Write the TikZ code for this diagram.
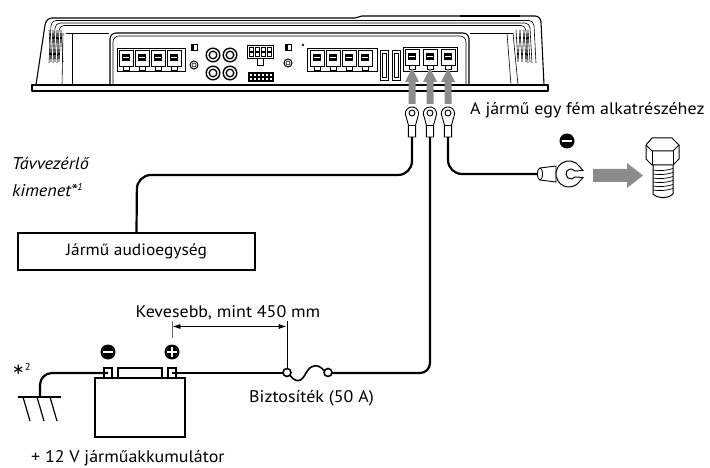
\documentclass[tikz,border=0pt]{standalone}
\usepackage{fontspec}
\setmainfont{PT Sans}[FakeStretch=1.07]
\newfontfamily\djv{DejaVu Sans}
\usetikzlibrary{arrows.meta}
\begin{document}
\begin{tikzpicture}[x=1pt,y=-1pt,
  amp/.style={line width=1.1pt, line join=round},
  det/.style={line width=0.6pt},
  wire/.style={line width=2.2pt},
  gfill/.style={fill=black!45},
  lbl/.style={font=\fontsize{16.8}{19}\selectfont, inner sep=0pt},
  ilbl/.style={font=\fontsize{17}{19}\selectfont\itshape, inner sep=0pt},
  boxst/.style={draw, line width=1.6pt, minimum width=237pt, minimum height=37pt, inner sep=0pt, font=\fontsize{16.3}{19}\selectfont},
  term/.pic={\draw[det] (0,0) rectangle (14,16); \fill (3,4) rectangle (11,11);
    \draw[white,line width=0.5pt] (4,7.5) -- (10,7.5); \draw[det] (4,16) rectangle (10,20);},
  signminus/.pic={\fill (0,0) circle[radius=7.5]; \fill[white] (-4.8,-1.3) rectangle (4.8,1.3);},
  signplus/.pic={\fill (0,0) circle[radius=7.5]; \fill[white] (-4.8,-1.3) rectangle (4.8,1.3);
    \fill[white] (-1.3,-4.8) rectangle (1.3,4.8);}
]
\useasboundingbox (0,0) rectangle (710,468);

% ---------------- amplifier ----------------
\draw[amp] (32,85) rectangle (548,91);
\draw[amp] (36,85) -- (45,25) to[out=80,in=180] (52,18) -- (355,18) -- (362,16) -- (535,16) to[out=0,in=95] (541,22) -- (544,85);
\draw[line width=2pt] (460,15.8) -- (520,15.8);
\foreach \k in {1,2,3}{
  \draw[det] (45+4*\k,63) -- (47+4*\k,23+2.5*\k) to[out=80,in=180] (52+4*\k,18+2.5*\k)
     -- (533-4*\k,18+2.5*\k) to[out=0,in=100] (538-4*\k,23+2.5*\k) -- (540-4*\k,63);
}
\draw[det] (49,30) -- (51,62) -- (53,30) -- (55,62) -- (57,30) -- (59,62) -- (61,30) -- (63,62);
\draw[det] (516,30) -- (518,62) -- (520,30) -- (522,62) -- (524,30) -- (526,62) -- (528,30) -- (530,62);
\draw[det] (63,33) -- (62,85);
\draw[det] (72,33) -- (72,85);
\draw[det] (66,33) -- (109,33);
\draw[det] (470,33) -- (513,33);
\draw[det] (507,33) -- (511,85);
\draw[det] (513,33) -- (518,85);
% panel
\draw[amp] (110,85) -- (110,39) to[out=90,in=180] (116,33) -- (463,33) to[out=0,in=90] (469,39) -- (469,85);
\draw[det] (113,85) -- (113,42) to[out=90,in=180] (119,36) -- (460,36) to[out=0,in=90] (466,42) -- (466,85);

% left speaker block
\draw[det] (117,48) rectangle (185,71);
\foreach \x in {119,135,151,167} \pic at (\x,50) {term};
% small switch and knob
\draw[det] (191,44) rectangle (197,50); \fill (191,44) rectangle (194,50);
\draw[line width=1pt] (194,65) circle[radius=4]; \draw[det] (194,65) circle[radius=2];
% RCA jacks
\foreach \x/\y in {213/55,230/55,213/73,230/73}{
  \draw[line width=1.4pt] (\x,\y) circle[radius=6.8];
  \draw[line width=1.3pt] (\x,\y) circle[radius=3.8];
}
% 8 pin connector
\draw[det] (247,45) rectangle (273,58);
\foreach \x in {249,255,261,267} \foreach \y in {47,52} \draw[det] (\x,\y) rectangle ++(4.5,4);
\draw[det] (257,58) rectangle (263,65);
% 16 pin connector
\draw[det] (248,72) rectangle (273,81);
\foreach \x in {249.5,253.5,257.5,261.5,265.5,269.5} \foreach \y in {73.5,77.2} \draw[det] (\x,\y) rectangle ++(3,3);
% small switch, led, knob
\draw[det] (285,44) rectangle (291,50); \fill (285,44) rectangle (288,50);
\draw[det] (303,45) circle[radius=1];
\draw[line width=1pt] (288,63) circle[radius=4]; \draw[det] (288,63) circle[radius=2];
% right speaker block
\draw[det] (307,48) rectangle (377,71);
\foreach \x in {310,326,342,358} \pic at (\x,50) {term};
% fuse slots
\draw[det] (380,50) rectangle (388,80); \draw[det] (382,53) rectangle (386,77);
\draw[det] (392,50) rectangle (400,80); \draw[det] (394,53) rectangle (398,77);
% power block
\draw[det] (403,47) rectangle (457,71);
\foreach \x in {405,423,441} \pic at (\x,49) {term};

% ---------------- arrows and ring terminals ----------------
\foreach \x/\n in {412/r1,430/r2,448/r3}{
  \fill[gfill] (\x-3.5,104) -- (\x-3.5,82) -- (\x-7,82) -- (\x,68) -- (\x+7,82) -- (\x+3.5,82) -- (\x+3.5,104) -- cycle;
  \draw[line width=0.9pt, fill=white] (\x-3.6,137) -- (\x-3.6,125) -- (\x-5.8,117) arc[start angle=150,end angle=390,radius=6.7] -- (\x+3.6,125) -- (\x+3.6,137) -- cycle;
  \draw[line width=0.9pt] (\x,113) circle[radius=3];
  \draw[line width=0.6pt] (\x-3.6,125) -- (\x+3.6,125);
  \coordinate (\n) at (\x,137);
}

% ---------------- audio unit ----------------
\node[boxst] (audio) at (136.5,251.5) {Jármű audioegység};
\node[ilbl, anchor=west] (t1) at (12,163) {Távvezérlő};
\node[ilbl, anchor=west] (t2) at (12,190) {kimenet*\raisebox{0.4em}{\fontsize{10}{10}\selectfont 1}};
\coordinate (c1) at (137,175);
\draw[wire, rounded corners=14pt] (r1) |- (c1) -- (audio.north);

% ---------------- ground lug, bolt ----------------
\node[lbl, anchor=west] (gtext) at (470,110) {A jármű egy fém alkatrészéhez};
\pic at (567,141) {signminus};
\coordinate (lug) at (538,174);
\draw[wire, rounded corners=14pt] (r3) |- (lug);
% lug barrel
\draw[line width=0.9pt, fill=white] (540,168) -- (556,166) -- (556,182) -- (540,180);
\draw[line width=0.9pt, fill=white] (540,174) ellipse[x radius=2.5, y radius=6];
% lug head
\draw[line width=1pt, fill=white] (579.6,166.5) arc[start angle=-35,end angle=-325,radius=13]
  -- (583,177.5) -- (575,177) arc[start angle=36.87,end angle=323.13,radius=5] -- (583,170.5) -- cycle;
% gray arrow
\fill[gfill] (593,169) -- (627,169) -- (627,163) -- (643,175.5) -- (627,188) -- (627,182) -- (593,182) -- cycle;
% bolt
\begin{scope}[line width=1pt, line join=round]
\draw[fill=white] (653,165) -- (653,194) to[bend right=40] (673,194) -- (673,165);
\foreach \y in {170,174,178,182,186,190} \draw[line width=0.7pt] (653,\y) to[bend right=12] (673,\y-1.5);
\draw[fill=white] (646,145) -- (652,138) -- (672,138) -- (679,145) -- (679,159) -- (673,165) -- (652,165) -- (646,159) -- cycle;
\draw (646,145) -- (652,151) -- (673,151) -- (679,145);
\draw (652,151) -- (652,165); \draw (673,151) -- (673,165);
\end{scope}

% ---------------- battery ----------------
\draw[line width=1.4pt] (95,378) rectangle (185,437);
\draw[line width=1.3pt] (118,368) rectangle (162,378);
\draw[line width=1.3pt] (104,368) rectangle (112,378);
\draw[line width=1.3pt] (168,368) rectangle (176,378);
\coordinate (bneg) at (108,373);
\coordinate (bpos) at (172,373);
\pic at (108,352) {signminus};
\pic at (172,352) {signplus};
\node[lbl, anchor=west] (batt) at (31,458) {+ 12 V járműakkumulátor};
% ground symbol
\coordinate (gnd) at (40,397);
\draw[wire, rounded corners=12pt] (bneg) -| (gnd);
\draw[line width=1.4pt] (18,397) -- (61,397);
\foreach \x in {23,37,50} \draw[line width=1.2pt] (\x,397) -- (\x+7,421);
\node[anchor=west, inner sep=0pt] (star2) at (12,369) {{\djv\fontsize{15}{15}\selectfont ∗}\raisebox{0.35em}{\fontsize{10}{10}\selectfont 2}};

% ---------------- fuse ----------------
\coordinate (fuseL) at (283,373);
\coordinate (fuseR) at (332,373);
\draw[wire] (bpos) -- (fuseL);
\draw[line width=1.6pt] (287,372.5) circle[radius=4];
\draw[line width=1.6pt] (328,372.5) circle[radius=4];
\draw[line width=1.6pt] (290,375.5) .. controls (297,384) and (302,381) .. (306,373) .. controls (310,365) and (318,363) .. (324,370.5);
\draw[wire, rounded corners=10pt] (r2) |- (fuseR);
\node[lbl, anchor=west] (fusetext) at (249,398) {Biztosíték (50 A)};

% ---------------- dimension ----------------
\node[lbl] (dimtext) at (228,313) {Kevesebb, mint 450 mm};
\draw[line width=0.8pt, black!60] (172,321) -- (172,338);
\draw[line width=0.8pt] (287,321) -- (287,368);
\draw[line width=0.8pt, {Latex[length=8pt,width=5pt]}-{Latex[length=8pt,width=5pt]}] (172.4,326.5) -- (286.6,326.5);
\end{tikzpicture}
\end{document}
